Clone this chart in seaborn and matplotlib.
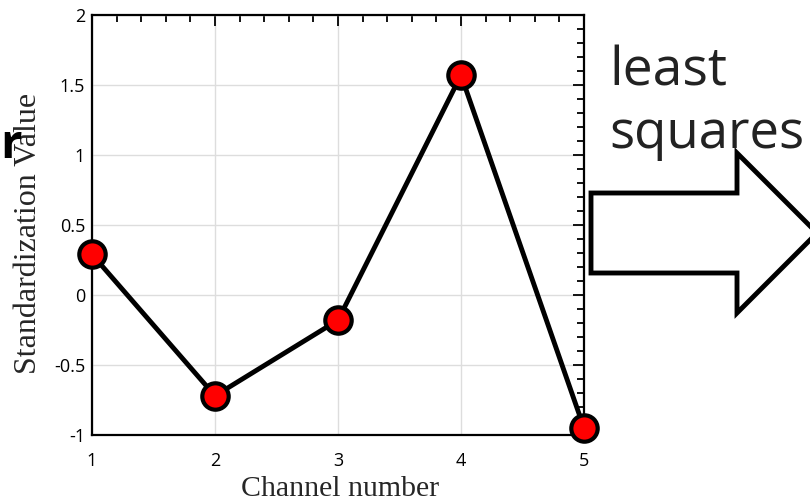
import matplotlib
matplotlib.use("Agg")
import matplotlib.pyplot as plt
from matplotlib.patches import Polygon
from matplotlib.ticker import MultipleLocator, FuncFormatter
import seaborn as sns
import pandas as pd

channels = [1, 2, 3, 4, 5]
std_values = [0.29, -0.72, -0.18, 1.57, -0.95]

sns.set_theme(style="white")
plt.rcParams["font.family"] = ["Open Sans", "DejaVu Sans"]

W, H = 810, 503
fig = plt.figure(figsize=(W / 100, H / 100), dpi=100)
ax = fig.add_axes([92 / W, 1 - 435 / H, (584 - 92) / W, (435 - 15) / H])

df = pd.DataFrame({"channel": channels, "value": std_values})
sns.lineplot(data=df, x="channel", y="value", ax=ax, color="black", lw=3.5,
             marker="o", markersize=19, markerfacecolor="red",
             markeredgecolor="black", markeredgewidth=3, zorder=5, clip_on=False)

ax.set_xlim(1, 5)
ax.set_ylim(-1, 2)
ax.xaxis.set_major_locator(MultipleLocator(1))
ax.xaxis.set_minor_locator(MultipleLocator(0.2))
ax.yaxis.set_major_locator(MultipleLocator(0.5))
ax.yaxis.set_minor_locator(MultipleLocator(0.1))

plain = FuncFormatter(lambda v, _: f"{v:g}")
ax.xaxis.set_major_formatter(plain)
ax.yaxis.set_major_formatter(plain)

ax.grid(True, which="major", color="#dddddd", lw=1)
ax.set_axisbelow(True)
ax.tick_params(which="both", direction="in", top=True, right=True,
               color="black", width=1.3)
ax.tick_params(which="major", length=8, labelsize=13, colors="black")
ax.tick_params(axis="x", which="major", pad=12)
ax.tick_params(axis="y", which="major", pad=5)
ax.tick_params(which="minor", length=5)
for sp in ax.spines.values():
    sp.set_color("black")
    sp.set_linewidth(1.6)

serif = ["Liberation Serif", "DejaVu Serif"]
ax.set_xlabel("Channel number", fontdict={"family": serif, "size": 21.5})
ax.set_ylabel("Standardization Value", fontdict={"family": serif, "size": 23})
ax.xaxis.set_label_coords(0.504, -0.098)
ax.yaxis.set_label_coords(-0.10, 0.479)

# cut-off word ending on the far left
fig.text(0, 1 - 158 / H, "r", fontsize=34, fontweight="bold",
         color="black", ha="left", va="baseline")

# method label and outlined arrow on the right
fig.text(609 / W, 1 - 85 / H, "least", fontsize=38.5, color="#222222",
         ha="left", va="baseline")
fig.text(609 / W, 1 - 148 / H, "squares", fontsize=38, color="#222222",
         ha="left", va="baseline")

pts = [(591, 193), (737, 193), (737, 153), (817, 233),
       (737, 313), (737, 273), (591, 273)]
arrow = Polygon([(x / W, 1 - y / H) for x, y in pts], closed=True,
                transform=fig.transFigure, facecolor="white",
                edgecolor="black", lw=3.5, joinstyle="miter")
fig.patches.append(arrow)

fig.savefig("out.png", dpi=100)
